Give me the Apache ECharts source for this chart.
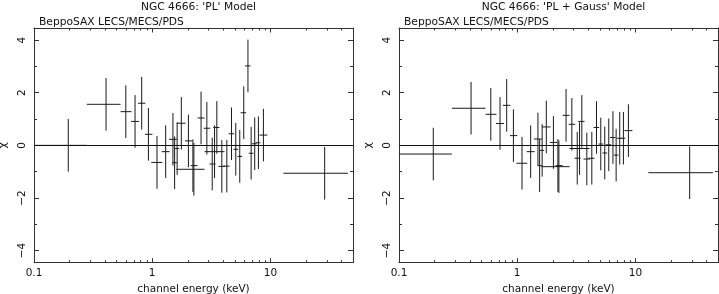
<!DOCTYPE html>
<html>
<head>
<meta charset="utf-8">
<script src="https://cdn.jsdelivr.net/npm/echarts@6/dist/echarts.min.js"></script>
<style>
html,body{margin:0;padding:0;background:#fff;}
#chart{width:719px;height:294px;}
</style>
</head>
<body>
<div id="chart"></div>
<script>
// ---- Data ----
const titles = ["NGC 4666: 'PL' Model", "NGC 4666: 'PL + Gauss' Model"];
const subtitle = "BeppoSAX LECS/MECS/PDS";
const xAxisName = "channel energy (keV)";
const yAxisName = "χ";

// channel energy bins (keV): centre, lower edge, upper edge
const energyMid = [0.195, 0.407, 0.598, 0.716, 0.815, 0.929, 1.098, 1.30, 1.498, 1.548, 1.626, 1.764, 2.025, 2.210, 2.253, 2.591,
                   2.900, 3.221, 3.370, 3.523, 3.882, 4.279, 4.688, 5.095, 5.507, 5.952, 6.458, 6.873, 7.37, 7.92, 8.73, 28.8];
const energyLo  = [0.100, 0.280, 0.540, 0.663, 0.759, 0.869, 0.984, 1.203, 1.386, 1.481, 1.563, 1.619, 1.892, 2.113, 1.600, 2.421,
                   2.730, 3.057, 2.773, 3.287, 3.640, 4.000, 4.430, 4.870, 5.270, 5.600, 6.100, 6.560, 6.95, 7.50, 8.08, 12.87];
const energyHi  = [0.280, 0.540, 0.668, 0.774, 0.876, 1.004, 1.219, 1.405, 1.619, 1.619, 1.690, 1.918, 2.184, 2.421, 2.773, 2.773,
                   3.098, 3.435, 4.092, 3.713, 4.130, 4.508, 4.940, 5.340, 5.770, 6.235, 6.780, 7.190, 7.66, 8.23, 9.43, 45.3];

// residuals (sigma units) for each model
const residPL      = [0.00, 1.56, 1.28, 0.91, 1.60, 0.42, -0.65, -0.24, 0.23, -0.66, -0.12, 0.84, 0.17, -0.77, -0.91, 1.04,
                      0.65, -0.71, -0.24, 0.68, -0.80, -0.79, 0.44, -0.15, -0.42, 1.24, 3.02, -0.30, 0.06, 0.10, 0.39, -1.06];
const residPLGauss = [-0.33, 1.41, 1.18, 0.83, 1.52, 0.37, -0.68, -0.24, 0.24, -0.77, -0.19, 0.70, 0.11, -0.77, -0.81, 1.14,
                      0.80, -0.49, -0.12, 0.91, -0.52, -0.49, 0.68, 0.05, -0.29, 0.02, 0.30, -0.37, 0.27, 0.27, 0.56, -1.04];
// error bars (sigma units)
const errPL      = [1,1,1,1,1,1,1,1,1,1,1,1,1,1,1,1,1,1,1,1,1,1,1,1,1,1,1,1,1,1,1,1];
const errPLGauss = [1,1,1,1,1,1,1,1,1,1,1,1,1,1,1,1,1,1,1,1,1,1,1,1,1,1,1,1,1,1,1,1];

// axis ranges and ticks
const xMin = 0.1, xMax = 50;
const yMin = -4.46, yMax = 4.46;
const xMajorTicks = [0.1, 1, 10];
const xMinorTicks = [0.2, 0.3, 0.4, 0.5, 0.6, 0.7, 0.8, 0.9, 2, 3, 4, 5, 6, 7, 8, 9, 20, 30, 40];
const yMajorTicks = [-4, -2, 0, 2, 4];
const yMinorTicks = [-3, -1, 1, 3];

// ---- Chart ----
const FONT = 'DejaVu Sans';
const INK = '#111';
const FRAME = '#333';
const panels = [
  { left: 34, resid: residPL, err: errPL, title: titles[0] },
  { left: 399, resid: residPLGauss, err: errPLGauss, title: titles[1] }
];
const PW = 319, TOP = 28, PH = 234.7;

const grid = [], xAxis = [], yAxis = [], series = [], title = [];
panels.forEach((p, gi) => {
  grid.push({ left: p.left, top: TOP, width: PW, height: PH, containLabel: false, outerBoundsMode: 'none' });
  title.push({ text: p.title, left: p.left + PW / 2, top: -3, textAlign: 'center',
    textStyle: { fontFamily: FONT, fontSize: 10.7, fontWeight: 'normal', color: INK } });
  title.push({ text: subtitle, left: p.left, top: 12,
    textStyle: { fontFamily: FONT, fontSize: 10.7, fontWeight: 'normal', color: INK } });

  const xBase = { type: 'log', gridIndex: gi, min: xMin, max: xMax, splitLine: { show: false } };
  const xi = xAxis.length;
  // bottom major (labels, name)
  xAxis.push(Object.assign({}, xBase, {
    position: 'bottom', name: xAxisName, nameLocation: 'middle', nameGap: 16,
    nameTextStyle: { fontFamily: FONT, fontSize: 10.5, color: INK },
    axisLine: { show: true, onZero: false, lineStyle: { color: FRAME, width: 1 } },
    axisTick: { show: true, inside: true, length: 4.5, customValues: xMajorTicks, lineStyle: { color: FRAME } },
    axisLabel: { show: true, customValues: xMajorTicks, margin: 5, fontFamily: FONT, fontSize: 10.5, color: INK,
      formatter: v => String(+v.toPrecision(3)) }
  }));
  // bottom minor
  xAxis.push(Object.assign({}, xBase, {
    position: 'bottom', axisLine: { show: false, onZero: false },
    axisTick: { show: true, inside: true, length: 2.5, customValues: xMinorTicks, lineStyle: { color: FRAME } },
    axisLabel: { show: false }
  }));
  // top major
  xAxis.push(Object.assign({}, xBase, {
    position: 'top', axisLine: { show: true, onZero: false, lineStyle: { color: FRAME, width: 1 } },
    axisTick: { show: true, inside: true, length: 4.5, customValues: xMajorTicks, lineStyle: { color: FRAME } },
    axisLabel: { show: false }
  }));
  // top minor
  xAxis.push(Object.assign({}, xBase, {
    position: 'top', axisLine: { show: false, onZero: false },
    axisTick: { show: true, inside: true, length: 2.5, customValues: xMinorTicks, lineStyle: { color: FRAME } },
    axisLabel: { show: false }
  }));

  const yBase = { type: 'value', gridIndex: gi, min: yMin, max: yMax, splitLine: { show: false } };
  const yi = yAxis.length;
  yAxis.push(Object.assign({}, yBase, {
    position: 'left', name: yAxisName, nameLocation: 'middle', nameGap: 25, nameRotate: 90,
    nameTextStyle: { fontFamily: FONT, fontSize: 11, color: INK },
    axisLine: { show: true, onZero: false, lineStyle: { color: FRAME, width: 1 } },
    axisTick: { show: true, inside: true, length: 5, customValues: yMajorTicks, lineStyle: { color: FRAME } },
    axisLabel: { show: true, customValues: yMajorTicks, rotate: 90, margin: 6, fontFamily: FONT, fontSize: 10.5, color: INK,
      formatter: v => (v < 0 ? '\u2212' + Math.abs(v) : String(v)) }
  }));
  yAxis.push(Object.assign({}, yBase, {
    position: 'left', axisLine: { show: false, onZero: false },
    axisTick: { show: true, inside: true, length: 3, customValues: yMinorTicks, lineStyle: { color: FRAME } },
    axisLabel: { show: false }
  }));
  yAxis.push(Object.assign({}, yBase, {
    position: 'right', axisLine: { show: true, onZero: false, lineStyle: { color: FRAME, width: 1 } },
    axisTick: { show: true, inside: true, length: 5, customValues: yMajorTicks, lineStyle: { color: FRAME } },
    axisLabel: { show: false }
  }));
  yAxis.push(Object.assign({}, yBase, {
    position: 'right', axisLine: { show: false, onZero: false },
    axisTick: { show: true, inside: true, length: 3, customValues: yMinorTicks, lineStyle: { color: FRAME } },
    axisLabel: { show: false }
  }));

  const data = energyMid.map((e, i) => [e, energyLo[i], energyHi[i], p.resid[i], p.err[i]]);
  series.push({
    type: 'custom', xAxisIndex: xi, yAxisIndex: yi, data: data,
    encode: { x: [0, 1, 2], y: 3 },
    clip: true,
    renderItem: function (params, api) {
      const x = api.value(0), lo = api.value(1), hi = api.value(2), y = api.value(3), e = api.value(4);
      const pL = api.coord([lo, y]), pH = api.coord([hi, y]);
      const pT = api.coord([x, y + e]), pB = api.coord([x, y - e]);
      const st = { stroke: '#1a1a1a', lineWidth: 1 };
      return { type: 'group', children: [
        { type: 'line', shape: { x1: pL[0], y1: pL[1], x2: pH[0], y2: pH[1] }, style: st },
        { type: 'line', shape: { x1: pT[0], y1: pT[1], x2: pB[0], y2: pB[1] }, style: st }
      ] };
    },
    markLine: {
      silent: true, symbol: ['none', 'none'], label: { show: false },
      lineStyle: { color: '#111', width: 1, type: 'solid' },
      data: [{ yAxis: 0 }]
    },
    z: 3
  });
});

const chart = echarts.init(document.getElementById('chart'), null, { renderer: 'canvas' });
chart.setOption({
  animation: false,
  backgroundColor: '#fff',
  title: title,
  grid: grid,
  xAxis: xAxis,
  yAxis: yAxis,
  series: series
});
</script>
</body>
</html>
